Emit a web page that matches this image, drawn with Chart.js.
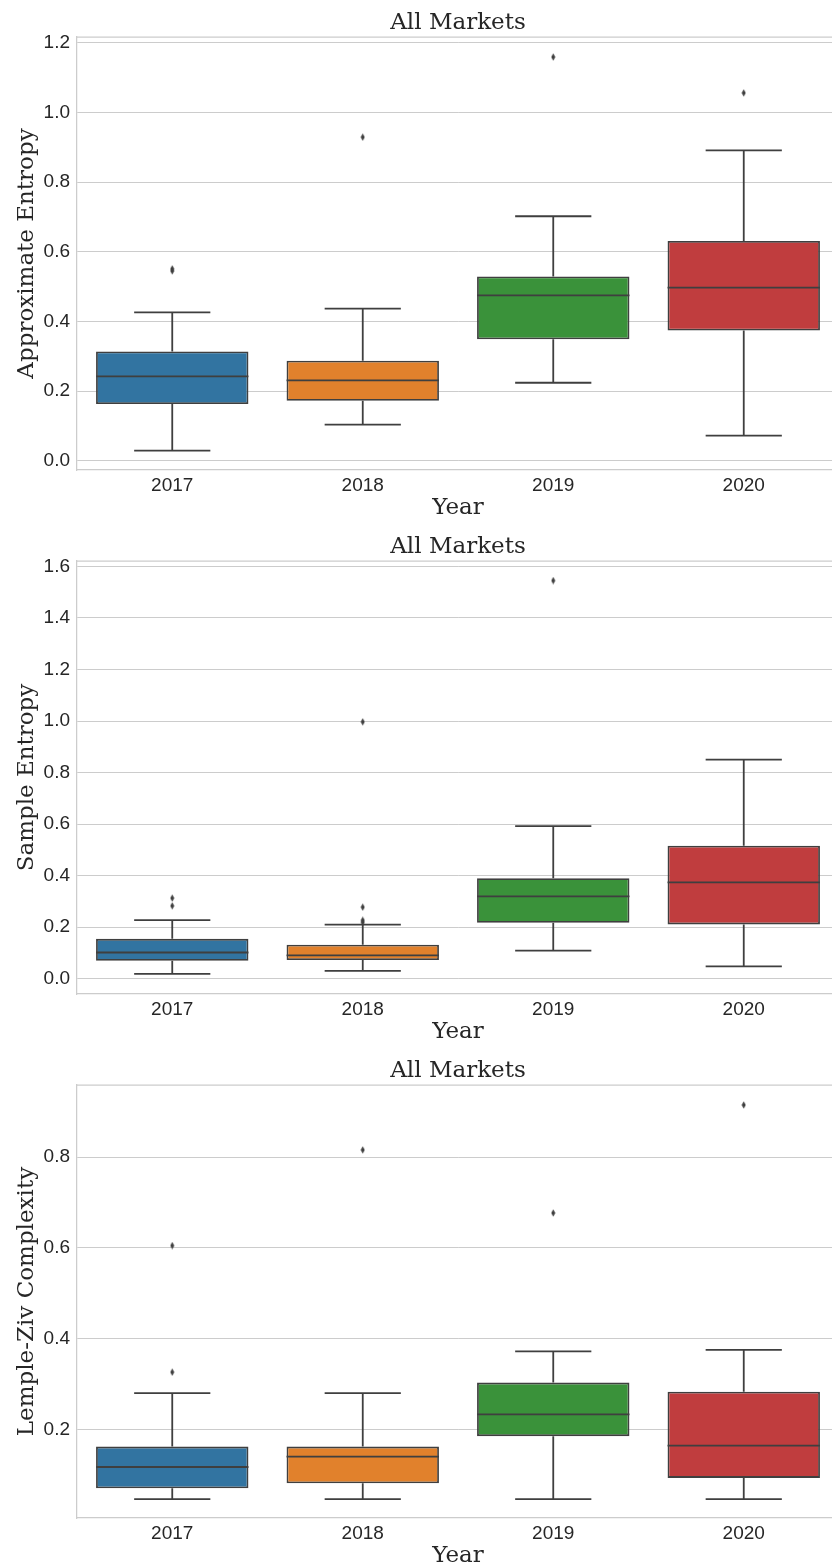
<!DOCTYPE html>
<html>
<head>
<meta charset="utf-8">
<script src="https://cdn.jsdelivr.net/npm/chart.js@4.4.0/dist/chart.umd.min.js"></script>
<style>
  html, body { margin: 0; padding: 0; overflow: hidden; background: #fff; width: 832px; height: 1566px; }
  .panel { position: absolute; left: 0; width: 840px; height: 524px; }
</style>
</head>
<body>
<div class="panel" style="top:0"><canvas id="chart-apen" width="840" height="524"></canvas></div>
<div class="panel" style="top:524px"><canvas id="chart-sampen" width="840" height="524"></canvas></div>
<div class="panel" style="top:1048px"><canvas id="chart-lzc" width="840" height="524"></canvas></div>
<script>
const years = ['2017', '2018', '2019', '2020'];
const boxColors = ['#3274a1', '#e1812c', '#3a923a', '#c03d3e'];

// Approximate Entropy
const apenLow      = [0.029, 0.104, 0.224, 0.072];
const apenQ1       = [0.163, 0.172, 0.349, 0.374];
const apenMedian   = [0.242, 0.231, 0.475, 0.497];
const apenQ3       = [0.314, 0.287, 0.529, 0.631];
const apenHigh     = [0.426, 0.437, 0.702, 0.891];
const apenOutliers = [[0.551, 0.545], [0.929], [1.159], [1.056]];
const apenTicks    = [0, 0.2, 0.4, 0.6, 0.8, 1.0, 1.2];
const apenRange    = [-0.0265, 1.2165];

// Sample Entropy
const sampenLow      = [0.019, 0.031, 0.109, 0.048];
const sampenQ1       = [0.070, 0.073, 0.217, 0.211];
const sampenMedian   = [0.102, 0.091, 0.320, 0.374];
const sampenQ3       = [0.155, 0.132, 0.390, 0.516];
const sampenHigh     = [0.228, 0.210, 0.592, 0.850];
const sampenOutliers = [[0.313, 0.283], [0.278, 0.227, 0.219, 0.997], [1.545], []];
const sampenTicks    = [0, 0.2, 0.4, 0.6, 0.8, 1.0, 1.2, 1.4, 1.6];
const sampenRange    = [-0.059, 1.621];

// Lemple-Ziv Complexity
const lzcLow      = [0.046, 0.046, 0.046, 0.046];
const lzcQ1       = [0.070, 0.081, 0.185, 0.093];
const lzcMedian   = [0.117, 0.140, 0.233, 0.164];
const lzcQ3       = [0.162, 0.162, 0.303, 0.283];
const lzcHigh     = [0.280, 0.280, 0.372, 0.375];
const lzcOutliers = [[0.326, 0.605], [0.816], [0.677], [0.915]];
const lzcTicks    = [0.2, 0.4, 0.6, 0.8];
const lzcRange    = [0.0046, 0.959];

const lineColor = '#3f3f3f';
const textColor = '#262626';
const gridColor = '#cccccc';
const serif = "'DejaVu Serif', serif";
const sans = "'Liberation Sans', Arial, sans-serif";

// thin diamond marker, like matplotlib 'd'
function diamondMarker() {
  const c = document.createElement('canvas');
  c.width = 5; c.height = 8;
  const g = c.getContext('2d');
  g.fillStyle = lineColor;
  g.beginPath();
  g.moveTo(2.5, 0.3);
  g.lineTo(4.5, 4);
  g.lineTo(2.5, 7.7);
  g.lineTo(0.5, 4);
  g.closePath();
  g.fill();
  return c;
}
const marker = diamondMarker();

// whiskers, caps, medians and the top spine
const boxPlugin = {
  id: 'boxparts',
  beforeDatasetsDraw(chart) {
    const { ctx, chartArea } = chart;
    ctx.save();
    ctx.strokeStyle = gridColor;
    ctx.lineWidth = 1.25;
    ctx.beginPath();
    ctx.moveTo(chartArea.left, chartArea.top);
    ctx.lineTo(chartArea.right, chartArea.top);
    ctx.stroke();
    ctx.restore();
  },
  afterDatasetsDraw(chart, args, opts) {
    const { ctx } = chart;
    const y = chart.scales.y;
    const bars = chart.getDatasetMeta(0).data;
    ctx.save();
    ctx.strokeStyle = lineColor;
    ctx.lineWidth = 1.8;
    bars.forEach((bar, i) => {
      const cx = bar.x;
      const half = bar.width / 2;
      const capHalf = half / 2;
      const yLow = y.getPixelForValue(opts.low[i]);
      const yQ1 = y.getPixelForValue(opts.q1[i]);
      const yMed = y.getPixelForValue(opts.median[i]);
      const yQ3 = y.getPixelForValue(opts.q3[i]);
      const yHigh = y.getPixelForValue(opts.high[i]);
      ctx.beginPath();
      ctx.moveTo(cx, yQ1); ctx.lineTo(cx, yLow);
      ctx.moveTo(cx, yQ3); ctx.lineTo(cx, yHigh);
      ctx.moveTo(cx - capHalf, yLow); ctx.lineTo(cx + capHalf, yLow);
      ctx.moveTo(cx - capHalf, yHigh); ctx.lineTo(cx + capHalf, yHigh);
      ctx.moveTo(cx - half, yMed); ctx.lineTo(cx + half, yMed);
      ctx.stroke();
    });
    ctx.restore();
  }
};

function makeBoxChart(id, yLabel, low, q1, median, q3, high, outliers, ticks, range) {
  const ctx = document.getElementById(id).getContext('2d');
  const outlierPoints = [];
  outliers.forEach((list, i) => {
    list.forEach(v => outlierPoints.push({ x: years[i], y: v }));
  });

  return new Chart(ctx, {
    data: {
      labels: years,
      datasets: [
        {
          type: 'bar',
          xAxisID: 'x',
          yAxisID: 'y',
          data: q1.map((v, i) => [v, q3[i]]),
          backgroundColor: boxColors,
          borderColor: lineColor,
          borderWidth: 1.8,
          borderSkipped: false,
          barPercentage: 0.8,
          categoryPercentage: 1.0,
          order: 2,
        },
        {
          type: 'line',
          xAxisID: 'x',
          yAxisID: 'y',
          data: outlierPoints,
          showLine: false,
          pointStyle: marker,
          pointRadius: 3,
          order: 1,
        },
      ],
    },
    options: {
      responsive: false,
      animation: false,
      layout: { autoPadding: false, padding: { left: 0, right: 1, top: 0, bottom: 0 } },
      plugins: {
        legend: { display: false },
        tooltip: { enabled: false },
        boxparts: { low, q1, median, q3, high },
      },
      scales: {
        x: {
          type: 'category',
          position: 'bottom',
          offset: true,
          afterFit: s => { s.height = 54; },
          grid: { display: false, drawTicks: false },
          border: { color: gridColor, width: 1.25 },
          ticks: { color: textColor, padding: 4, font: { family: sans, size: 19 } },
          title: {
            display: true,
            text: 'Year',
            color: textColor,
            font: { family: serif, size: 23, lineHeight: 1 },
            padding: { top: 0, bottom: 4 },
          },
        },
        // carries the "All Markets" heading, centred over the plot area
        top: {
          type: 'category',
          position: 'top',
          offset: true,
          afterFit: s => { s.height = 37; },
          grid: { display: false, drawTicks: false },
          border: { display: false },
          ticks: { display: false },
          title: {
            display: true,
            text: 'All Markets',
            color: textColor,
            font: { family: serif, size: 23, lineHeight: 1.2 },
            padding: { top: 9, bottom: 0 },
          },
        },
        y: {
          min: range[0],
          max: range[1],
          afterBuildTicks: s => { s.ticks = ticks.map(v => ({ value: v })); },
          afterFit: s => { s.width = 77; },
          grid: { color: gridColor, lineWidth: 1, drawTicks: false },
          border: { color: gridColor, width: 1.25 },
          ticks: {
            color: textColor,
            padding: 7,
            font: { family: sans, size: 19 },
            callback: v => Number(v).toFixed(1),
          },
          title: {
            display: true,
            text: yLabel,
            color: textColor,
            font: { family: serif, size: 23, lineHeight: 1 },
            padding: { top: 16, bottom: 0 },
          },
        },
      },
    },
    plugins: [boxPlugin],
  });
}

makeBoxChart('chart-apen', 'Approximate Entropy',
  apenLow, apenQ1, apenMedian, apenQ3, apenHigh, apenOutliers, apenTicks, apenRange);
makeBoxChart('chart-sampen', 'Sample Entropy',
  sampenLow, sampenQ1, sampenMedian, sampenQ3, sampenHigh, sampenOutliers, sampenTicks, sampenRange);
makeBoxChart('chart-lzc', 'Lemple-Ziv Complexity',
  lzcLow, lzcQ1, lzcMedian, lzcQ3, lzcHigh, lzcOutliers, lzcTicks, lzcRange);
</script>
</body>
</html>
